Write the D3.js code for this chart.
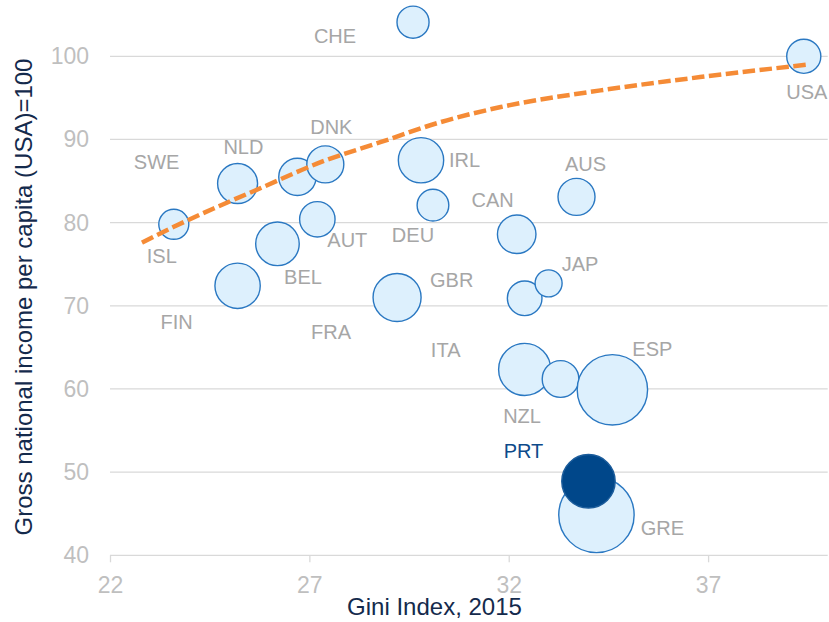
<!DOCTYPE html>
<html>
<head>
<meta charset="utf-8">
<script src="https://cdn.jsdelivr.net/npm/d3@7"></script>
<style>
  html, body { margin: 0; padding: 0; background: #ffffff; }
  svg { display: block; font-family: "Liberation Sans", Arial, sans-serif; }
</style>
</head>
<body>
<svg id="chart" width="829" height="622"></svg>
<script>
// Countries: Gini index (x), GNI per capita with USA = 100 (y), unemployment rate (bubble size)
const countries = ["CHE", "USA", "ISL", "SWE", "NLD", "DNK", "AUT", "BEL", "FIN", "FRA", "IRL",
                   "DEU", "CAN", "AUS", "GBR", "JAP", "ITA", "NZL", "ESP", "GRE", "PRT"];
const gini      = [29.6, 39.4, 23.6, 25.2, 26.7, 27.4, 27.2, 26.2, 25.2, 29.2, 29.8,
                   30.1, 32.2, 33.7, 32.4, 33.0, 32.4, 33.3, 34.6, 34.2, 34.0];
const gni       = [104.1, 100.0, 79.8, 84.7, 85.5, 87.0, 80.4, 77.45, 72.4, 71.0, 87.5,
                   82.1, 78.6, 83.1, 70.9, 72.7, 62.35, 61.2, 59.9, 44.85, 48.9];
const unemployment = [4.5, 5.1, 3.95, 7.0, 6.1, 6.0, 5.5, 8.3, 9.0, 10.1, 9.0,
                      4.4, 6.5, 6.0, 5.25, 3.2, 11.9, 5.9, 21.7, 24.9, 12.5];
const highlighted = "PRT";

// Trend curve
const trendX = [22.8, 23.6, 24.6, 25.8, 27.3, 28.8, 30.3, 31.8, 34.3, 36.8, 39.5];
const trendY = [77.6, 79.5, 81.7, 84.2, 87.3, 89.7, 92.1, 93.9, 95.9, 97.5, 99.0];

// Axis ticks
const xTicks = [22, 27, 32, 37];
const yTicks = [40, 50, 60, 70, 80, 90, 100];

// Label placement: offset of each country label from its bubble centre (px)
const labelOffset = {
  CHE: [-78, 21], USA: [3, 43], ISL: [-12, 39], SWE: [-81, -15], NLD: [-54, -23],
  DNK: [6, -30], AUT: [30, 27.5], BEL: [25.5, 40], FIN: [-61, 43], FRA: [-66, 42],
  IRL: [43.5, 7], DEU: [-20, 36.5], CAN: [-24, -27], AUS: [9, -26], GBR: [-73, -11.5],
  JAP: [31.5, -12.5], ITA: [-79, -12.5], NZL: [-38.5, 44], ESP: [40, -34],
  GRE: [66, 20], PRT: [-65, -23]
};

const svg = d3.select("#chart");

const x = d3.scaleLinear().domain([22, 40]).range([110, 827.7]);
const y = d3.scaleLinear().domain([40, 100]).range([555.3, 56.3]);
const r = d3.scaleSqrt().domain([0, 24.9]).range([0, 37.7]);

const gridColor = "#d9d9d9";

// Horizontal gridlines
svg.append("g")
  .selectAll("line")
  .data(yTicks)
  .join("line")
  .attr("x1", x(22))
  .attr("x2", x(40))
  .attr("y1", d => y(d))
  .attr("y2", d => y(d))
  .attr("stroke", gridColor)
  .attr("stroke-width", 1.3);

// X axis
const xAxis = svg.append("g")
  .attr("transform", `translate(0,${y(40)})`)
  .call(d3.axisBottom(x).tickValues(xTicks).tickSize(7).tickPadding(14).tickFormat(d3.format("d")));
xAxis.select(".domain").remove();
xAxis.selectAll(".tick line").attr("stroke", gridColor).attr("stroke-width", 1.3);
xAxis.selectAll(".tick text")
  .attr("fill", "#bfbfbf")
  .attr("font-size", 23)
  .attr("font-family", "Liberation Sans, Arial, sans-serif");

// Y axis labels
const yAxis = svg.append("g")
  .attr("transform", `translate(${x(22)},0)`)
  .call(d3.axisLeft(y).tickValues(yTicks).tickSize(0).tickPadding(21).tickFormat(d3.format("d")));
yAxis.select(".domain").remove();
yAxis.selectAll(".tick text")
  .attr("fill", "#bfbfbf")
  .attr("font-size", 23)
  .attr("font-family", "Liberation Sans, Arial, sans-serif");

// Axis titles
svg.append("text")
  .attr("x", 434.5)
  .attr("y", 615)
  .attr("text-anchor", "middle")
  .attr("font-size", 24)
  .attr("fill", "#142a4c")
  .text("Gini Index, 2015");

svg.append("text")
  .attr("transform", "translate(32,297) rotate(-90)")
  .attr("text-anchor", "middle")
  .attr("font-size", 24)
  .attr("fill", "#142a4c")
  .text("Gross national income per capita (USA)=100");

// Bubbles
const data = countries.map((c, i) => ({
  name: c, gini: gini[i], gni: gni[i], size: unemployment[i]
}));

svg.append("g")
  .selectAll("circle")
  .data(data)
  .join("circle")
  .attr("cx", d => x(d.gini))
  .attr("cy", d => y(d.gni))
  .attr("r", d => r(d.size))
  .attr("fill", d => d.name === highlighted ? "#00478a" : "#ddf0fd")
  .attr("stroke", d => d.name === highlighted ? "#1c5d9c" : "#2a78c2")
  .attr("stroke-width", 1.4);

// Country labels
svg.append("g")
  .selectAll("text")
  .data(data)
  .join("text")
  .attr("x", d => x(d.gini) + labelOffset[d.name][0])
  .attr("y", d => y(d.gni) + labelOffset[d.name][1])
  .attr("text-anchor", "middle")
  .attr("font-size", 20)
  .attr("fill", d => d.name === highlighted ? "#0d4a8a" : "#a6a6a6")
  .text(d => d.name);

// Trend curve
const trend = trendX.map((v, i) => [v, trendY[i]]);
svg.append("path")
  .datum(trend)
  .attr("fill", "none")
  .attr("stroke", "#f58b36")
  .attr("stroke-width", 4.5)
  .attr("stroke-dasharray", "12.5,4.5")
  .attr("d", d3.line().x(d => x(d[0])).y(d => y(d[1])).curve(d3.curveMonotoneX));
</script>
</body>
</html>
